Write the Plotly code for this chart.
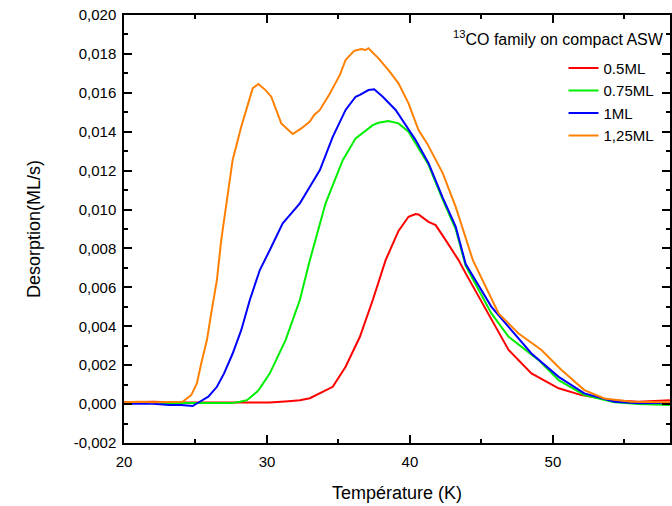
import plotly.graph_objects as go

# ---- data ----
t_125 = [20.0, 21.0, 22.0, 23.0, 24.1, 24.7, 25.1, 25.4, 25.8, 26.1, 26.5, 26.8, 27.6, 28.2,
         28.8, 29.0, 29.4, 29.9, 30.3, 31.0, 31.8, 32.4, 33.0, 33.3, 33.7, 34.4, 35.1, 35.5,
         36.1, 36.6, 36.9, 37.1, 37.8, 38.5, 39.2, 39.9, 40.6, 41.2, 42.3, 43.2, 44.4, 45.5,
         46.2, 47.6, 49.2, 50.6, 52.2, 53.6, 55.5, 58.2]
v_125 = [0.00010, 0.00012, 0.00010, 0.00012, 0.00012, 0.00046, 0.00106, 0.00209, 0.00329,
         0.00466, 0.00638, 0.00843, 0.01255, 0.01426, 0.01580, 0.01623, 0.01645, 0.01614,
         0.01580, 0.01443, 0.01388, 0.01417, 0.01452, 0.01486, 0.01512, 0.01597, 0.01692,
         0.01769, 0.01816, 0.01825, 0.01820, 0.01829, 0.01777, 0.01717, 0.01649, 0.01546,
         0.01409, 0.01340, 0.01186, 0.01014, 0.00740, 0.00569, 0.00466, 0.00363, 0.00278,
         0.00175, 0.00072, 0.00029, 0.00012, 0.00010]

t_1 = [20.0, 21.0, 22.0, 23.2, 24.0, 24.8, 25.3, 25.9, 26.5, 27.0, 27.6, 28.2, 28.8, 29.5,
       30.2, 31.1, 31.7, 32.3, 33.0, 33.7, 34.6, 35.5, 36.2, 36.5, 37.1, 37.5, 38.1, 39.0,
       40.4, 41.3, 42.3, 43.2, 43.9, 45.7, 46.9, 48.5, 50.4, 52.2, 54.3, 56.0, 58.2]
v_1 = [0.00000, 0.00003, 0.00002, -0.00005, -0.00005, -0.00010, 0.00012, 0.00038, 0.00089,
       0.00158, 0.00260, 0.00380, 0.00535, 0.00689, 0.00792, 0.00929, 0.00980, 0.01032,
       0.01117, 0.01203, 0.01374, 0.01512, 0.01580, 0.01589, 0.01614, 0.01618, 0.01580,
       0.01512, 0.01357, 0.01238, 0.01060, 0.00912, 0.00720, 0.00500, 0.00397, 0.00260,
       0.00140, 0.00055, 0.00012, 0.00004, 0.00005]

t_075 = [20.0, 22.0, 24.0, 26.0, 27.5, 28.1, 28.6, 29.3, 29.5, 30.2, 31.3, 32.3, 33.0, 34.1,
         35.3, 36.2, 37.4, 37.8, 38.5, 39.2, 39.9, 40.4, 41.3, 42.3, 43.2, 43.9, 45.7, 46.9,
         49.0, 50.4, 52.2, 54.3, 56.0, 58.2]
v_075 = [0.00005, 0.00005, 0.00003, 0.00005, 0.00005, 0.00012, 0.00020, 0.00063, 0.00081,
         0.00158, 0.00329, 0.00535, 0.00740, 0.01032, 0.01254, 0.01366, 0.01434, 0.01446,
         0.01455, 0.01443, 0.01400, 0.01340, 0.01230, 0.01050, 0.00900, 0.00710, 0.00466,
         0.00346, 0.00226, 0.00123, 0.00046, 0.00010, 0.00000, -0.00005]

t_05 = [20.0, 22.0, 24.0, 26.0, 28.0, 30.2, 31.5, 32.3, 33.0, 33.7, 34.6, 35.5, 36.5, 37.4,
        38.3, 39.2, 39.9, 40.4, 40.6, 41.3, 41.8, 42.5, 43.4, 43.9, 45.5, 46.9, 48.5, 50.4,
        52.0, 54.1, 56.0, 58.2]
v_05 = [0.00010, 0.00012, 0.00008, 0.00008, 0.00010, 0.00008, 0.00015, 0.00020, 0.00030,
        0.00055, 0.00089, 0.00192, 0.00346, 0.00535, 0.00740, 0.00890, 0.00963, 0.00977,
        0.00975, 0.00937, 0.00920, 0.00843, 0.00740, 0.00672, 0.00466, 0.00278, 0.00158,
        0.00081, 0.00046, 0.00020, 0.00012, 0.00020]

series_names = ["0.5ML", "0.75ML", "1ML", "1,25ML"]
series_colors = ["#ff0000", "#00ee00", "#0000ff", "#ff8000"]

x_ticks = [20, 30, 40, 50]
x_minor = [25, 35, 45, 55]
y_ticks = [-0.002, 0.000, 0.002, 0.004, 0.006, 0.008, 0.010, 0.012, 0.014, 0.016, 0.018, 0.020]
y_ticktext = ["-0,002", "0,000", "0,002", "0,004", "0,006", "0,008", "0,010", "0,012",
              "0,014", "0,016", "0,018", "0,020"]
y_minor = [-0.001, 0.001, 0.003, 0.005, 0.007, 0.009, 0.011, 0.013, 0.015, 0.017, 0.019]

FONT = "Liberation Sans, Arial, sans-serif"

fig = go.Figure()
for t, v, name, col in zip([t_05, t_075, t_1, t_125], [v_05, v_075, v_1, v_125],
                           series_names, series_colors):
    fig.add_trace(go.Scatter(x=t, y=v, mode="lines", name=name,
                             line=dict(color=col, width=2)))

fig.update_layout(
    width=672, height=506,
    margin=dict(l=124, r=0, t=15, b=63),
    paper_bgcolor="white", plot_bgcolor="rgba(0,0,0,0)",
    font=dict(family=FONT, size=15, color="black"),
    xaxis=dict(range=[20, 58.19], tickvals=x_ticks, ticks="inside", ticklen=8, tickwidth=1.5,
               tickcolor="black", showline=True, linewidth=1.5, linecolor="black",
               mirror="ticks", showgrid=False, zeroline=False, ticklabelstandoff=4,
               minor=dict(tickvals=x_minor, ticks="inside", ticklen=4, tickwidth=1.5,
                          tickcolor="black"),
               title=dict(text="Température (K)", font=dict(size=18), standoff=18)),
    yaxis=dict(range=[-0.002, 0.020], tickvals=y_ticks, ticktext=y_ticktext,
               ticks="inside", ticklen=8, tickwidth=1.5, tickcolor="black",
               showline=True, linewidth=1.5, linecolor="black", mirror="ticks",
               showgrid=False, zeroline=False, ticklabelstandoff=3,
               minor=dict(tickvals=y_minor, ticks="inside", ticklen=4, tickwidth=1.5,
                          tickcolor="black"),
               title=dict(text="Desorption(ML/s)", font=dict(size=18), standoff=28)),
    legend=dict(x=0.805, y=0.914, xanchor="left", yanchor="top", font=dict(size=15),
                bgcolor="rgba(0,0,0,0)", tracegroupgap=0),
    annotations=[dict(text="<sup>13</sup>CO family on compact ASW", xref="paper", yref="paper",
                      x=0.598, y=0.946, xanchor="left", yanchor="middle", showarrow=False,
                      font=dict(size=16))],
)

fig.write_html("out.html")
